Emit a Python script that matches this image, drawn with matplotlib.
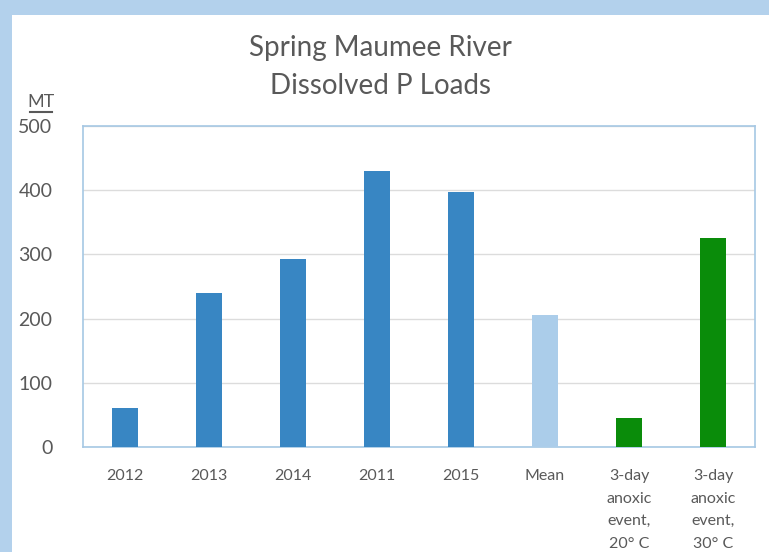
import matplotlib.pyplot as plt
from matplotlib.lines import Line2D
from matplotlib.patches import Rectangle

categories = ['2012', '2013', '2014', '2011', '2015', 'Mean',
              '3-day\nanoxic\nevent,\n20° C', '3-day\nanoxic\nevent,\n30° C']
loads = [61, 240, 293, 430, 397, 206, 45, 325]
bar_colors = ['#3886c3'] * 5 + ['#abcdea'] + ['#0a8c0a'] * 2

plt.rcParams['font.family'] = ['Lato', 'DejaVu Sans']
text_color = '#595959'

fig = plt.figure(figsize=(7.69, 5.52), dpi=100)
fig.patch.set_facecolor('#b3d1ec')
# white inner panel
fig.add_artist(Rectangle((12 / 769, 0), 1, 1 - 15 / 552, transform=fig.transFigure,
                         facecolor='white', edgecolor='none', zorder=0))

ax = fig.add_axes([83 / 769, 1 - 447 / 552, 672 / 769, 321 / 552])
ax.set_facecolor('white')
x = range(len(categories))
ax.bar(x, loads, width=0.31, color=bar_colors, zorder=3)

ax.set_xlim(-0.5, len(categories) - 0.5)
ax.set_ylim(0, 500)
ax.set_yticks(range(0, 501, 100))
ax.set_xticks(list(x))
ax.set_xticklabels(categories, fontsize=11.5, color=text_color, linespacing=1.78, va='top')
ax.tick_params(axis='y', labelsize=14, labelcolor=text_color, length=0, pad=22)
ax.tick_params(axis='x', length=0, pad=16)
ax.grid(axis='y', color='#dcdcdc', linewidth=1, zorder=0)
for s in ax.spines.values():
    s.set_color('#a6c8e4')
    s.set_linewidth(1.2)

fig.text(380 / 769, 1 - 48 / 552, 'Spring Maumee River', ha='center', va='center',
         fontsize=20, color=text_color)
fig.text(380 / 769, 1 - 86 / 552, 'Dissolved P Loads', ha='center', va='center',
         fontsize=20, color=text_color)

fig.text(41 / 769, 1 - 102 / 552, 'MT', ha='center', va='center', fontsize=13, color=text_color)
fig.add_artist(Line2D([30 / 769, 52 / 769], [1 - 112 / 552, 1 - 112 / 552],
                      transform=fig.transFigure, color=text_color, linewidth=1.5))

fig.savefig('out.png', dpi=100, facecolor=fig.get_facecolor())
